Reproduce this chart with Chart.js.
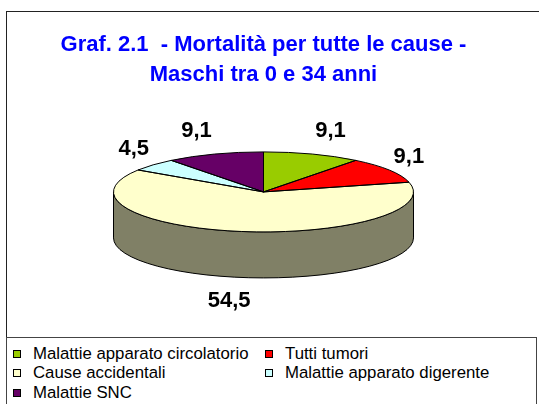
<!DOCTYPE html>
<html>
<head>
<meta charset="utf-8">
<script src="https://cdn.jsdelivr.net/npm/chart.js@4"></script>
<style>
  html, body { margin: 0; padding: 0; background: #fff; }
  body { width: 539px; height: 404px; overflow: hidden; position: relative; font-family: "Liberation Sans", Arial, sans-serif; }
  #cornice { position: absolute; left: 6px; top: 11px; width: 600px; height: 500px; border: 1px solid #222; box-sizing: border-box; }
  #grafico { position: absolute; left: 0; top: 0; }
  #legenda {
    position: absolute; left: 6px; top: 337px; width: 531px; height: 100px;
    border: 1px solid #444; box-sizing: border-box; background: #fff;
    display: grid; grid-template-columns: 252px auto; grid-auto-rows: 19.5px;
    padding: 6px 0 0 6px; font-size: 16.8px; color: #000;
  }
  .voce { display: flex; align-items: center; white-space: nowrap; }
  .quad { width: 8px; height: 8px; border: 1px solid #000; box-sizing: border-box; margin-right: 12px; flex: none; }
</style>
</head>
<body>
<div id="cornice"></div>
<canvas id="grafico" width="539" height="404"></canvas>
<div id="legenda"></div>
<script>
// Dati del grafico
const titolo = ['Graf. 2.1  - Mortalità per tutte le cause -', 'Maschi tra 0 e 34 anni'];
const categorie = ['Malattie apparato circolatorio', 'Tutti tumori', 'Cause accidentali', 'Malattie apparato digerente', 'Malattie SNC'];
const valori = [9.1, 9.1, 54.5, 4.5, 9.1];

// Stile
const colori = ['#99CC00', '#FF0000', '#FFFFCC', '#CCFFFF', '#660066'];
const FONT = '"Liberation Sans", Arial, sans-serif';
const TORTA = { rx: 150, ry: 40, spessore: 46 };

// Scurisce un colore esadecimale (per il fianco della torta)
function scurisci(hex, f) {
    const n = parseInt(hex.slice(1), 16);
    const r = Math.round(((n >> 16) & 255) * f);
    const g = Math.round(((n >> 8) & 255) * f);
    const b = Math.round((n & 255) * f);
    return `rgb(${r},${g},${b})`;
}

// Plugin per l'effetto 3D: fianco, schiacciamento e etichette
const torta3d = {
    id: 'torta3d',
    beforeDatasetsDraw(chart) {
        const ctx = chart.ctx;
        const archi = chart.getDatasetMeta(0).data;
        const { x, y, outerRadius } = archi[0];
        const { rx, ry, spessore } = TORTA;

        // fianco visibile (metà anteriore)
        archi.forEach((arco, i) => {
            const a = Math.max(arco.startAngle, 0);
            const b = Math.min(arco.endAngle, Math.PI);
            if (b <= a) return;
            ctx.beginPath();
            ctx.ellipse(x, y, rx, ry, 0, a, b);
            ctx.ellipse(x, y + spessore, rx, ry, 0, b, a, true);
            ctx.closePath();
            ctx.fillStyle = scurisci(colori[i], 0.5);
            ctx.fill();
            ctx.lineWidth = 1;
            ctx.strokeStyle = '#000';
            ctx.stroke();
        });

        // la faccia superiore viene disegnata da Chart.js, schiacciata
        ctx.save();
        ctx.translate(x, y);
        ctx.scale(rx / outerRadius, ry / outerRadius);
        ctx.translate(-x, -y);
    },
    afterDatasetsDraw(chart) {
        const ctx = chart.ctx;
        ctx.restore();
        const archi = chart.getDatasetMeta(0).data;
        const { rx, ry, spessore } = TORTA;

        // contorni delle fette
        ctx.lineWidth = 1;
        ctx.strokeStyle = '#000';
        archi.forEach(arco => {
            ctx.beginPath();
            ctx.moveTo(arco.x, arco.y);
            ctx.ellipse(arco.x, arco.y, rx, ry, 0, arco.startAngle, arco.endAngle);
            ctx.closePath();
            ctx.stroke();
        });

        // etichette dei valori, fuori dal bordo
        ctx.font = `bold 22px ${FONT}`;
        ctx.fillStyle = '#000';
        ctx.textAlign = 'center';
        ctx.textBaseline = 'middle';
        archi.forEach((arco, i) => {
            const m = (arco.startAngle + arco.endAngle) / 2;
            const c = Math.cos(m), s = Math.sin(m);
            const lx = arco.x + (rx + 2) * c + 18 * Math.sign(c) * Math.min(1, Math.abs(c) * 3);
            const ly = arco.y + (ry + 24) * s + (s > 0 ? spessore : 0);
            ctx.fillText(String(valori[i]).replace('.', ','), lx, ly);
        });
    }
};

const grafico = new Chart(document.getElementById('grafico'), {
    type: 'pie',
    data: {
        labels: categorie,
        datasets: [{
            data: valori,
            backgroundColor: colori,
            borderWidth: 0,
            hoverOffset: 0,
            clip: false
        }]
    },
    options: {
        responsive: false,
        animation: false,
        events: [],
        layout: { padding: { left: 10, right: 22, top: 0, bottom: 120 } },
        plugins: {
            legend: { display: false },
            tooltip: { enabled: false },
            title: {
                display: true,
                text: titolo,
                color: '#0000FF',
                font: { family: FONT, size: 22, weight: 'bold', lineHeight: 1.36 },
                padding: { top: 30, bottom: 10 }
            }
        }
    },
    plugins: [torta3d]
});

// Legenda in HTML, due colonne come nell'originale
const legenda = document.getElementById('legenda');
grafico.data.labels.forEach((testo, i) => {
    const voce = document.createElement('div');
    voce.className = 'voce';
    const quad = document.createElement('span');
    quad.className = 'quad';
    quad.style.background = grafico.data.datasets[0].backgroundColor[i];
    voce.appendChild(quad);
    voce.appendChild(document.createTextNode(testo));
    legenda.appendChild(voce);
});
</script>
</body>
</html>
